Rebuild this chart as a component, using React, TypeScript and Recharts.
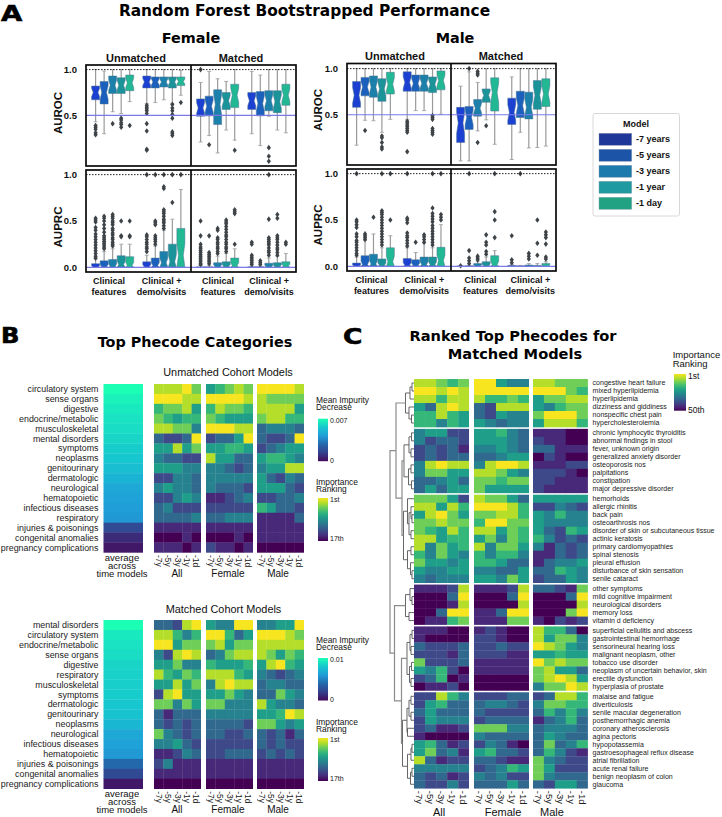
import { BarChart, Bar, XAxis, YAxis, ReferenceLine, ScatterChart, Scatter } from "recharts";

const SANS = "'Liberation Sans', Arial, sans-serif";
const TITLE = "'DejaVu Sans', sans-serif";

const modelNames = ["-7 years", "-5 years", "-3 years", "-1 year", "-1 day"];
const boxColors = ["#1c40d2", "#1a60bc", "#1b80aa", "#1a9498", "#22b894"];
const legendColors = ["#1e3799", "#1c54a8", "#1c7bac", "#1f9aa0", "#21a383"];
const slotNames = ["cf-7", "cf-5", "cf-3", "cf-1y", "cf-1d", "gap", "cd-7", "cd-5", "cd-3", "cd-1y", "cd-1d"];

// each box: whisker low, q1, median, q3, whisker high
const femaleAurocUnmatched = [
  [0.43, 0.67, 0.75, 0.82, 1], [0.3, 0.625, 0.75, 0.87, 0.985], [0.54, 0.74, 0.83, 0.93, 1], [0.52, 0.74, 0.83, 0.91, 1], [0.65, 0.77, 0.855, 0.94, 1],
  [0.63, 0.8, 0.865, 0.93, 1], [0.64, 0.8, 0.865, 0.92, 1], [0.67, 0.81, 0.865, 0.92, 1], [0.63, 0.8, 0.865, 0.92, 1], [0.72, 0.825, 0.87, 0.92, 0.99],
];
const femaleAurocUnmatchedOut = [
  [0.39, 0.37, 0.35, 0.31, 0.29], [], [0.41], [0.47, 0.45, 0.42, 0.4, 0.37], [0.39],
  [0.61, 0.59, 0.57, 0.55, 0.52, 0.41, 0.33, 0.13, 0.12], [], [], [0.62, 0.58, 0.55, 0.51, 0.47, 0.32, 0.3, 0.28], [0.64],
];
const femaleAurocMatched = [
  [0.21, 0.49, 0.58, 0.68, 0.86], [0.28, 0.495, 0.6, 0.71, 0.98], [0.09, 0.4, 0.62, 0.78, 0.9], [0.34, 0.565, 0.66, 0.75, 0.87], [0.23, 0.585, 0.72, 0.84, 1],
  [0.3, 0.565, 0.66, 0.75, 0.98], [0.17, 0.495, 0.63, 0.76, 0.94], [0.49, 0.55, 0.66, 0.77, 1], [0.34, 0.53, 0.65, 0.77, 1], [0.31, 0.61, 0.72, 0.84, 1],
];
const femaleAurocMatchedOut = [[1], [0.18], [], [], [0.12], [], [], [0.148, 0.054, 0.0], [], []];
const femaleAuprcUnmatched = [
  [0, 0.001, 0.005, 0.04, 0.09], [0, 0.001, 0.01, 0.07, 0.17], [0, 0.001, 0.012, 0.085, 0.2], [0, 0.001, 0.03, 0.125, 0.25], [0, 0.001, 0.02, 0.115, 0.25],
  [0, 0.001, 0.01, 0.06, 0.13], [0, 0.001, 0.02, 0.1, 0.23], [0, 0.001, 0.05, 0.17, 0.4], [0, 0.001, 0.06, 0.25, 0.52], [0, 0.001, 0.13, 0.42, 0.84],
];
const femaleAuprcUnmatchedOut = [
  [0.53, 0.51, 0.49, 0.43, 0.4, 0.36, 0.33, 0.3, 0.27, 0.24, 0.21, 0.18, 0.15, 0.12, 0.1],
  [0.55, 0.53, 0.5, 0.46, 0.42, 0.38, 0.34, 0.32, 0.3, 0.28, 0.26, 0.24, 0.22, 0.2],
  [0.57, 0.55, 0.53, 0.5, 0.48, 0.46, 0.42, 0.4, 0.37, 0.35, 0.32, 0.3, 0.27, 0.25, 0.23],
  [0.5, 0.34, 0.33], [0.5, 0.34, 0.33],
  [0.35, 0.33, 0.3, 0.27, 0.25, 0.22, 0.2, 0.17, 1], [0.5, 0.48, 0.46, 0.34, 0.32, 0.3, 0.28, 0.25, 1],
  [1, 0.87, 0.85, 0.62, 0.6, 0.58, 0.55, 0.52, 0.5, 0.48, 0.45, 0.42], [1, 0.7], [1],
];
const femaleAuprcMatched = [
  [0, 0.001, 0.002, 0.005, 0.02], [0, 0.001, 0.002, 0.005, 0.02], [0, 0.001, 0.01, 0.05, 0.12], [0, 0.001, 0.012, 0.06, 0.15], [0, 0.001, 0.02, 0.1, 0.2],
  [0, 0.001, 0.002, 0.005, 0.01], [0, 0.001, 0.002, 0.005, 0.01], [0, 0.001, 0.008, 0.045, 0.1], [0, 0.001, 0.01, 0.05, 0.12], [0, 0.001, 0.015, 0.06, 0.15],
];
const femaleAuprcMatchedOut = [
  [0.5, 0.34, 0.25, 0.22, 0.2, 0.18, 0.16, 0.14, 0.12, 0.1, 0.08, 0.06, 0.04, 0.03],
  [0.34, 0.16, 0.14, 0.12, 0.1, 0.08, 0.06, 0.04],
  [0.42, 0.4, 0.32, 0.3, 0.27, 0.25, 0.22, 0.2, 0.17, 0.15],
  [0.51, 0.49, 0.47, 0.44, 0.41, 0.38, 0.35, 0.33, 0.3, 0.27, 0.25, 0.22, 0.2, 0.17],
  [0.62, 0.6, 0.58, 0.25],
  [0.27, 0.25, 0.13, 0.11, 0.09, 0.07, 0.05, 0.03], [0.07, 0.05, 0.03],
  [1, 0.52, 0.32, 0.3, 0.28, 0.26, 0.24, 0.21, 0.18, 0.16, 0.13],
  [0.57, 0.53, 0.34, 0.32, 0.3, 0.27, 0.24, 0.21, 0.19, 0.16, 0.13], [0.27, 0.25],
];
const maleAurocUnmatched = [
  [0.17, 0.58, 0.71, 0.86, 1], [0.44, 0.705, 0.8, 0.905, 1], [0.435, 0.69, 0.8, 0.92, 1], [0.31, 0.645, 0.78, 0.89, 1], [0.45, 0.725, 0.83, 0.96, 1],
  [0.45, 0.755, 0.85, 0.965, 1], [0.545, 0.755, 0.84, 0.93, 1], [0.545, 0.755, 0.84, 0.93, 1], [0.5, 0.74, 0.83, 0.91, 1], [0.505, 0.77, 0.87, 0.975, 1],
];
const maleAurocUnmatchedOut = [
  [], [0.33], [], [0.27, 0.25, 0.2, 0.15, 0.13], [],
  [0.43, 0.41, 0.39, 0.37, 0.35, 0.33, 0.31, 0.1], [], [], [0.49, 0.47, 0.45, 0.35, 0.33, 0.31, 0.29], [],
];
const maleAurocMatched = [
  [0, 0.2, 0.41, 0.58, 0.81], [0, 0.34, 0.47, 0.59, 0.965], [0.325, 0.485, 0.57, 0.665, 0.85], [0.445, 0.635, 0.71, 0.78, 1], [0.18, 0.54, 0.74, 0.9, 1],
  [0.015, 0.395, 0.525, 0.68, 0.91], [0.31, 0.47, 0.6, 0.755, 1], [0.14, 0.455, 0.58, 0.745, 1], [0.145, 0.56, 0.71, 0.87, 1], [0.16, 0.59, 0.725, 0.89, 1],
];
const maleAurocMatchedOut = [[], [1], [0.97, 0.95, 0.93, 0.2], [0.38], [], [], [], [], [], []];
const maleAuprcUnmatched = [
  [0, 0.001, 0.005, 0.035, 0.1], [0, 0.001, 0.02, 0.115, 0.28], [0, 0.001, 0.025, 0.13, 0.35], [0, 0.001, 0.012, 0.08, 0.2], [0, 0.001, 0.05, 0.2, 0.33],
  [0, 0.001, 0.015, 0.085, 0.2], [0, 0.001, 0.012, 0.07, 0.15], [0, 0.001, 0.02, 0.1, 0.25], [0, 0.001, 0.02, 0.1, 0.2], [0, 0.001, 0.06, 0.205, 0.45],
];
const maleAuprcUnmatchedOut = [
  [1, 0.5, 0.48, 0.45, 0.42, 0.35, 0.32, 0.28, 0.26, 0.23, 0.2, 0.17, 0.14, 0.12],
  [0.35, 0.33, 0.31, 0.29], [0.53],
  [1, 0.6, 0.58, 0.56, 0.53, 0.5, 0.47, 0.44, 0.41, 0.38, 0.35, 0.32, 0.29, 0.26, 0.23],
  [1, 0.5], [1, 0.52, 0.5, 0.47, 0.36, 0.33, 0.31, 0.28, 0.25, 0.22], [0.26], [0.34, 0.32, 0.29, 0.26],
  [1, 0.63, 0.57, 0.54, 0.51, 0.48, 0.44, 0.41, 0.38, 0.35, 0.32, 0.29, 0.26, 0.23], [1, 0.56, 0.53, 0.5],
];
const maleAuprcMatched = [
  [0, 0.0005, 0.001, 0.002, 0.004], [0, 0.001, 0.002, 0.005, 0.01], [0, 0.001, 0.006, 0.03, 0.05], [0, 0.001, 0.008, 0.05, 0.1], [0, 0.001, 0.02, 0.115, 0.17],
  [0, 0.001, 0.003, 0.01, 0.02], [0, 0.001, 0.002, 0.005, 0.01], [0, 0.001, 0.004, 0.015, 0.03], [0, 0.001, 0.003, 0.01, 0.03], [0, 0.001, 0.006, 0.03, 0.05],
];
const maleAuprcMatchedOut = [
  [0.006], [1, 0.17, 0.09, 0.06, 0.03], [0.11, 0.09, 0.07], [0.34, 0.26, 0.23, 0.16, 0.13], [1, 0.59, 0.5, 0.31],
  [0.33, 0.07, 0.04], [1], [0.14, 0.11, 0.08], [0.5, 0.25, 0.12], [0.37, 0.34, 0.31, 0.24, 0.1, 0.08],
];

// panel B: rank colour steps 0 (17th) .. 9 (1st), columns All / Female / Male x -7y -5y -3y -1y -1d
const unmatchedCategories = ["circulatory system", "sense organs", "digestive", "endocrine/metabolic", "musculoskeletal", "mental disorders", "symptoms", "neoplasms", "genitourinary", "dermatologic", "neurological", "hematopoietic", "infectious diseases", "respiratory", "injuries & poisonings", "congenital anomalies", "pregnancy complications"];
const unmatchedImpurity = [0.007, 0.00665, 0.00645, 0.0063, 0.00615, 0.00595, 0.00575, 0.0056, 0.0053, 0.0049, 0.00455, 0.00435, 0.0042, 0.00405, 0.00175, 0.00085, 0.00035];
const unmatchedRanks = [
  [8, 8, 8, 9, 7, 5, 6, 7, 8, 7, 9, 9, 9, 9, 8],
  [9, 9, 9, 8, 8, 9, 9, 9, 9, 8, 8, 7, 7, 7, 7],
  [6, 7, 7, 8, 5, 6, 8, 7, 7, 6, 8, 8, 8, 8, 5],
  [7, 6, 5, 6, 6, 7, 6, 5, 5, 5, 7, 8, 8, 6, 6],
  [8, 8, 7, 7, 4, 9, 9, 9, 8, 8, 3, 4, 4, 4, 3],
  [3, 2, 2, 3, 9, 2, 3, 3, 5, 9, 3, 2, 2, 3, 9],
  [5, 5, 8, 5, 7, 5, 5, 6, 6, 5, 2, 3, 4, 5, 5],
  [4, 3, 3, 2, 2, 8, 5, 5, 3, 3, 5, 6, 6, 5, 4],
  [5, 5, 5, 4, 4, 4, 4, 3, 2, 3, 4, 5, 5, 8, 8],
  [2, 2, 4, 4, 3, 4, 4, 4, 4, 4, 5, 3, 2, 4, 3],
  [4, 5, 4, 4, 3, 4, 3, 3, 3, 2, 5, 5, 5, 3, 2],
  [2, 2, 4, 5, 4, 1, 1, 2, 3, 4, 2, 2, 3, 3, 4],
  [3, 4, 2, 2, 2, 2, 2, 2, 2, 2, 6, 5, 3, 3, 2],
  [3, 3, 3, 3, 4, 3, 3, 4, 4, 4, 1, 1, 1, 1, 3],
  [1, 1, 1, 1, 1, 1, 1, 1, 1, 1, 1, 1, 1, 1, 1],
  [0, 0, 0, 1, 0, 0, 0, 0, 1, 0, 1, 1, 1, 1, 1],
  [1, 1, 1, 0, 1, 2, 1, 1, 0, 1, 0, 0, 0, 0, 0],
];
const matchedCategories = ["mental disorders", "circulatory system", "endocrine/metabolic", "sense organs", "digestive", "respiratory", "musculoskeletal", "symptoms", "dermatologic", "genitourinary", "neoplasms", "neurological", "infectious diseases", "hematopoietic", "injuries & poisonings", "congenital anomalies", "pregnancy complications"];
const matchedImpurity = [0.01, 0.0092, 0.009, 0.0088, 0.0085, 0.0084, 0.0083, 0.0082, 0.008, 0.0078, 0.0072, 0.0065, 0.0062, 0.0058, 0.004, 0.0025, 0.0005];
const matchedRanks = [
  [3, 3, 2, 8, 9, 5, 4, 4, 9, 9, 4, 4, 5, 5, 9],
  [8, 8, 6, 4, 6, 9, 9, 6, 3, 5, 9, 9, 9, 8, 7],
  [9, 9, 5, 7, 7, 7, 8, 5, 7, 7, 8, 8, 8, 8, 8],
  [4, 2, 8, 9, 8, 3, 4, 7, 8, 8, 8, 7, 5, 7, 6],
  [5, 5, 7, 4, 4, 6, 5, 5, 5, 6, 5, 8, 9, 6, 5],
  [8, 6, 5, 7, 6, 8, 8, 8, 6, 5, 4, 3, 2, 3, 4],
  [5, 5, 8, 5, 7, 4, 8, 9, 8, 8, 3, 4, 4, 3, 3],
  [2, 8, 9, 5, 5, 5, 5, 7, 5, 4, 3, 3, 7, 5, 4],
  [7, 7, 4, 7, 5, 7, 7, 4, 4, 4, 8, 5, 4, 4, 3],
  [3, 1, 3, 3, 3, 4, 4, 4, 4, 4, 5, 5, 6, 9, 8],
  [3, 2, 3, 2, 3, 3, 3, 3, 3, 2, 7, 7, 5, 4, 5],
  [7, 4, 3, 2, 3, 3, 3, 2, 2, 3, 3, 2, 3, 1, 3],
  [4, 4, 5, 3, 2, 2, 2, 2, 2, 2, 3, 2, 3, 2, 2],
  [1, 1, 2, 4, 3, 2, 2, 3, 3, 3, 2, 3, 2, 3, 2],
  [2, 4, 1, 1, 1, 1, 1, 1, 1, 1, 1, 1, 1, 1, 1],
  [1, 1, 1, 1, 1, 1, 1, 1, 1, 1, 1, 1, 1, 1, 1],
  [0, 0, 0, 0, 0, 0, 0, 0, 0, 0, 0, 0, 0, 0, 0],
];

// panel C
const phecodeNames = [
  "congestive heart failure", "mixed hyperlipidemia", "hyperlipidemia", "dizziness and giddiness", "nonspecific chest pain", "hypercholesterolemia",
  "chronic lymphocytic thyroiditis", "abnormal findings in stool", "fever, unknown origin", "generalized anxiety disorder", "osteoporosis nos", "palpitations", "constipation", "major depressive disorder",
  "hemorhoids", "allergic rhinitis", "back pain", "osteoarthrosis nos", "disorder of skin or subcutaneous tissue", "actinic keratosis", "primary cardiomyopathies", "spinal stenosis", "pleural effusion", "disturbance of skin sensation", "senile cataract",
  "other symptoms", "mild cognitive impairment", "neurological disorders", "memory loss", "vitamin d deficiency",
  "superficial cellulitis and abscess", "gastrointestinal hemorrhage", "sensorineural hearing loss", "malignant neoplasm, other", "tobacco use disorder", "neoplasm of uncertain behavior, skin", "erectile dysfunction", "hyperplasia of prostate",
  "malaise and fatigue", "diverticulosis", "senile macular degeneration", "posthemorrhagic anemia", "coronary atherosclerosis", "agina pectoris", "hypopotassemia", "gastroesophageal reflux disease", "atrial fibrillation", "acute renal failure", "benign neoplasm of colon", "glaucoma",
];
const phecodeRanks = [
  [8, 8, 7, 6, 7, 9, 9, 5, 4, 4, 8, 8, 7, 7, 7],
  [9, 9, 8, 9, 8, 9, 9, 9, 9, 9, 9, 9, 9, 7, 6],
  [8, 8, 6, 8, 8, 8, 6, 6, 7, 6, 5, 7, 7, 8, 8],
  [5, 3, 8, 9, 8, 3, 2, 8, 8, 8, 5, 4, 6, 7, 7],
  [6, 6, 8, 6, 5, 3, 2, 5, 4, 4, 7, 9, 9, 9, 7],
  [6, 6, 4, 6, 5, 5, 4, 3, 4, 4, 5, 8, 8, 8, 6],
  [4, 5, 5, 2, 2, 5, 5, 6, 4, 3, 1, 1, 1, 0, 0],
  [4, 2, 3, 3, 2, 5, 5, 5, 4, 3, 2, 1, 1, 0, 0],
  [2, 3, 2, 3, 1, 4, 4, 5, 4, 3, 3, 3, 1, 1, 1],
  [2, 3, 2, 3, 3, 3, 3, 4, 5, 5, 0, 2, 1, 0, 0],
  [4, 8, 9, 8, 8, 4, 8, 9, 9, 8, 1, 1, 1, 2, 2],
  [4, 7, 7, 5, 5, 8, 8, 7, 5, 4, 2, 2, 2, 1, 0],
  [3, 3, 4, 5, 3, 7, 7, 6, 7, 7, 2, 2, 1, 1, 1],
  [3, 5, 3, 5, 5, 7, 5, 5, 5, 5, 2, 1, 1, 1, 1],
  [7, 7, 7, 5, 2, 8, 7, 7, 5, 3, 5, 5, 5, 5, 5],
  [8, 8, 5, 8, 6, 9, 9, 9, 8, 6, 2, 2, 4, 3, 2],
  [5, 8, 9, 7, 5, 7, 7, 8, 8, 6, 5, 4, 6, 4, 4],
  [7, 7, 8, 7, 7, 6, 9, 9, 7, 7, 5, 4, 4, 4, 4],
  [7, 6, 5, 8, 6, 8, 8, 5, 7, 6, 5, 3, 2, 6, 5],
  [8, 8, 5, 6, 6, 5, 7, 4, 7, 6, 6, 4, 2, 3, 2],
  [8, 4, 7, 5, 6, 8, 4, 7, 7, 5, 4, 1, 3, 2, 3],
  [6, 4, 7, 5, 4, 6, 4, 6, 6, 4, 1, 1, 3, 2, 3],
  [7, 5, 5, 4, 5, 6, 6, 5, 3, 3, 1, 3, 4, 4, 5],
  [5, 4, 4, 5, 5, 4, 4, 3, 3, 5, 3, 3, 6, 5, 4],
  [4, 3, 4, 4, 4, 5, 5, 4, 7, 5, 2, 3, 3, 5, 4],
  [1, 1, 1, 2, 8, 1, 1, 1, 2, 8, 3, 3, 2, 1, 7],
  [0, 0, 0, 3, 9, 0, 0, 0, 3, 9, 0, 0, 0, 3, 9],
  [0, 0, 0, 1, 8, 0, 0, 0, 0, 8, 0, 0, 0, 0, 8],
  [0, 0, 3, 9, 9, 1, 1, 3, 9, 9, 0, 0, 0, 7, 9],
  [0, 1, 1, 6, 7, 1, 1, 1, 7, 7, 1, 0, 2, 1, 2],
  [1, 1, 1, 0, 0, 1, 2, 1, 0, 0, 8, 6, 6, 3, 0],
  [1, 0, 0, 0, 0, 2, 2, 1, 0, 0, 8, 5, 7, 7, 4],
  [3, 2, 2, 2, 3, 2, 2, 3, 2, 2, 9, 8, 7, 5, 4],
  [2, 2, 2, 1, 3, 2, 2, 2, 1, 1, 5, 5, 6, 5, 5],
  [7, 2, 2, 2, 3, 1, 1, 1, 1, 1, 9, 7, 8, 7, 7],
  [5, 4, 6, 2, 0, 1, 1, 1, 1, 1, 7, 8, 5, 5, 3],
  [2, 3, 6, 0, 1, 0, 0, 0, 0, 0, 7, 8, 9, 8, 5],
  [0, 1, 1, 2, 0, 0, 0, 0, 0, 0, 4, 7, 7, 9, 8],
  [2, 2, 8, 6, 4, 2, 2, 2, 3, 3, 2, 3, 8, 8, 6],
  [2, 5, 6, 3, 3, 3, 4, 4, 3, 2, 4, 7, 7, 6, 6],
  [3, 5, 3, 3, 3, 3, 2, 2, 2, 2, 3, 6, 4, 6, 4],
  [2, 5, 4, 4, 4, 2, 3, 3, 3, 3, 1, 3, 4, 6, 3],
  [2, 3, 1, 1, 2, 7, 7, 7, 4, 4, 3, 4, 4, 4, 3],
  [1, 0, 0, 0, 0, 4, 3, 3, 3, 3, 3, 5, 4, 3, 3],
  [5, 6, 3, 1, 2, 2, 4, 3, 1, 0, 3, 7, 3, 4, 6],
  [5, 7, 3, 4, 1, 5, 6, 3, 3, 2, 3, 6, 4, 2, 1],
  [8, 3, 1, 2, 2, 3, 3, 2, 1, 1, 7, 4, 3, 2, 2],
  [4, 4, 4, 4, 4, 2, 3, 4, 6, 5, 7, 5, 2, 2, 2],
  [3, 2, 3, 1, 2, 4, 3, 4, 2, 2, 7, 4, 3, 3, 3],
  [3, 2, 2, 4, 2, 3, 3, 3, 5, 3, 3, 2, 5, 5, 3],
];
const clusterSizes = [6, 8, 11, 5, 8, 12];

// dendrogram merges: [distance, child, child], a bare number is a row
const treeC1 = [8.5, [4, [2, 0, 1], 2], [5, 3, [2.5, 4, 5]]];
const treeC2 = [10, [5, [2.5, 6, 7], [3, 8, 9]], [5.5, [3, 10, 11], [2.5, 12, 13]]];
const treeC3 = [10.5, [6.5, 14, [5, [3, 15, [2, 16, 17]], [3, 18, 19]]], [6.5, [3, 20, 21], [3.5, 22, [2, 23, 24]]]];
const treeC4 = [8.5, [4, 25, [2, 26, 27]], [5, 28, 29]];
const treeC5 = [7, [4, [2, 30, 31], [3, 32, 33]], [4.5, [2.5, 34, 35], [3, 36, 37]]];
const treeC6 = [11.5, [7, [5, [3, 38, 39], [3, 40, 41]], [6.5, 42, 43]], [6.5, [3, [2, 44, 45], 46], [3.5, [2, 47, 48], 49]]];
const phecodeTree = [24, [18, treeC1, [12, treeC2, treeC3]], [19.5, treeC4, [12.5, treeC5, treeC6]]];

const timeTicks = ["-7y", "-5y", "-3y", "-1y", "-1d"];
const viridis = ["#440154", "#482878", "#3e4989", "#31688e", "#26828e", "#1f9e89", "#35b779", "#6ece58", "#b5de2b", "#f6e51f"];
const impurityStops = ["#450a5c", "#34408c", "#2468ac", "#1f9ed8", "#17c7cf", "#1bffb4"];

function mix(stops: string[], t: number) {
  const p = Math.max(0, Math.min(1, t)) * (stops.length - 1);
  const i = Math.min(Math.floor(p), stops.length - 2);
  const f = p - i;
  const a = stops[i], b = stops[i + 1];
  const ch = (k: number) => Math.round(parseInt(a.slice(k, k + 2), 16) * (1 - f) + parseInt(b.slice(k, k + 2), 16) * f);
  return `rgb(${ch(1)},${ch(3)},${ch(5)})`;
}

function buildBoxRows(boxes: number[][], outliers: number[][]) {
  return slotNames.map((slot, i) => {
    if (i === 5) return { slot, range: null };
    const j = i < 5 ? i : i - 1;
    const b = boxes[j];
    return { slot, range: [b[1], b[3]], lo: b[0], q1: b[1], med: b[2], q3: b[3], hi: b[4], out: outliers[j], model: j % 5 };
  });
}

function BoxShape(props: any) {
  const { x, y, width, height, payload } = props;
  if (!payload || !payload.range) return null;
  const { lo, q1, med, q3, hi, out, model } = payload;
  const perUnit = height / (q3 - q1);
  const py = (v: number) => y + (q3 - v) * perUnit;
  const cx = x + width / 2;
  const notch = 0.3 * (q3 - q1);
  const low = Math.max(med - notch, q1);
  const l = x, r = x + width, nl = cx - width * 0.3, nr = cx + width * 0.3;
  const d = `M${l},${py(q1)}L${r},${py(q1)}L${r},${py(low)}L${nr},${py(med)}L${r},${py(med + notch)}L${r},${py(q3)}L${l},${py(q3)}L${l},${py(med + notch)}L${nl},${py(med)}L${l},${py(low)}Z`;
  return (
    <g>
      <line x1={cx} x2={cx} y1={py(hi)} y2={py(lo)} stroke="#9a9a9a" strokeWidth={1.2} />
      <line x1={cx - 2} x2={cx + 2} y1={py(hi)} y2={py(hi)} stroke="#9a9a9a" strokeWidth={0.8} />
      <line x1={cx - 2} x2={cx + 2} y1={py(lo)} y2={py(lo)} stroke="#9a9a9a" strokeWidth={0.8} />
      <path d={d} fill={boxColors[model]} stroke="#4d7390" strokeWidth={0.5} />
      {out.map((v: number, k: number) => (
        <path key={k} d={`M${cx},${py(v) - 2.8}L${cx + 2.1},${py(v)}L${cx},${py(v) + 2.8}L${cx - 2.1},${py(v)}Z`} fill="#3e4347" />
      ))}
    </g>
  );
}

function BoxFacet({ x, y, w, h, boxes, outliers, axis, bottom, baseline, labelDx }: any) {
  const rows = buildBoxRows(boxes, outliers);
  const axisW = axis ? 40 : 0;
  const xTick = ({ x: tx, payload }: any) => {
    const i = slotNames.indexOf(payload.value);
    if (i !== 2 && i !== 8) return <g />;
    const lines = i === 2 ? ["Clinical", "features"] : ["Clinical +", "demo/visits"];
    const dx = labelDx[i === 2 ? 0 : 1];
    return (
      <text textAnchor="middle" fontFamily={SANS} fontWeight="bold" fontSize={9} fill="#111">
        <tspan x={tx + dx} y={h + 12}>{lines[0]}</tspan>
        <tspan x={tx + dx} y={h + 23}>{lines[1]}</tspan>
      </text>
    );
  };
  return (
    <div style={{ position: "absolute", left: x - axisW, top: y }}>
      <BarChart width={w + axisW} height={h + (bottom ? 34 : 0)} data={rows} margin={{ top: 0, right: 0, bottom: 0, left: 0 }} barCategoryGap={0}>
        <XAxis dataKey="slot" hide={!bottom} interval={0} height={34} tick={xTick} tickLine={false} axisLine={false} padding={{ left: 5.6, right: 5.6 }} />
        <YAxis hide={!axis} width={axisW} type="number" domain={[-0.05, 1.05]} ticks={[0, 0.5, 1]} allowDataOverflow tickFormatter={(v: number) => v.toFixed(1)} axisLine={false} tickLine={false} tickMargin={3} tick={{ fontFamily: SANS, fontWeight: "bold", fontSize: 9.5, fill: "#111" }} />
        <ReferenceLine y={baseline} stroke="#7a7ae6" strokeWidth={1.1} />
        <ReferenceLine y={1} stroke="#222" strokeDasharray="1.5 1.5" strokeWidth={1} />
        <Bar dataKey="range" barSize={8} shape={BoxShape} isAnimationActive={false} />
      </BarChart>
    </div>
  );
}

function BoxPanel({ x, midX, right, top1, bottom1, top2, bottom2, data, dx }: any) {
  return (
    <>
      <BoxFacet x={x} y={top1} w={midX - x} h={bottom1 - top1} boxes={data[0]} outliers={data[1]} axis baseline={0.5} labelDx={dx[0]} />
      <BoxFacet x={midX} y={top1} w={right - midX} h={bottom1 - top1} boxes={data[2]} outliers={data[3]} baseline={0.5} labelDx={dx[0]} />
      <BoxFacet x={x} y={top2} w={midX - x} h={bottom2 - top2} boxes={data[4]} outliers={data[5]} axis bottom baseline={0} labelDx={dx[0]} />
      <BoxFacet x={midX} y={top2} w={right - midX} h={bottom2 - top2} boxes={data[6]} outliers={data[7]} bottom baseline={0} labelDx={dx[1]} />
    </>
  );
}

function HeatPanel({ x, y, w, h, rows, rowPos, rowH, colors, labels, labelSide, axisW = 0, labelSize, ticks, tickSize = 8.5, tickH = 22 }: any) {
  const nCols = rows[0].length;
  const cellW = w / nCols;
  const cells: any[] = [];
  rows.forEach((r: number[], i: number) => r.forEach((v, j) => cells.push({ col: j, row: rowPos[i], v })));
  const lastPos = rowPos[rowPos.length - 1];
  const cellShape = ({ cx, cy, payload }: any) => (
    <rect x={cx - cellW / 2} y={cy - rowH / 2} width={cellW + 0.3} height={rowH + 0.3} fill={colors(payload.v)} />
  );
  const left = labelSide === "left" ? axisW : 0;
  const isRight = labelSide === "right";
  const rowTick = ({ x: tx, y: ty, payload }: any) => (
    <text x={tx} y={ty} dy="0.35em" textAnchor={isRight ? "start" : "end"} fontFamily={SANS} fontSize={labelSize} fill="#222">
      {labels[rowPos.indexOf(payload.value)]}
    </text>
  );
  return (
    <div style={{ position: "absolute", left: x - left, top: y }}>
      <ScatterChart width={w + axisW} height={h + (ticks ? tickH : 0)} margin={{ top: 0, right: 0, bottom: 0, left: 0 }}>
        <XAxis
          type="number" dataKey="col" domain={[-0.5, nCols - 0.5]} ticks={timeTicks.map((_, i) => i)} interval={0} hide={!ticks} height={tickH} axisLine={false} tickLine={false}
          tick={({ x: tx, payload }: any) => (
            <text transform={`rotate(90 ${tx} ${h + 2.5})`} x={tx} y={h + 2.5} dy="0.35em" fontFamily={SANS} fontSize={tickSize} fill="#222">{timeTicks[payload.value]}</text>
          )}
        />
        <YAxis
          type="number" dataKey="row" reversed domain={[-0.5, lastPos + 0.5]} hide={!labels} width={axisW} orientation={isRight ? "right" : "left"}
          ticks={rowPos} interval={0} axisLine={false} tickLine={false} tickSize={0} tickMargin={5} tick={rowTick}
        />
        <Scatter data={cells} shape={cellShape} isAnimationActive={false} />
      </ScatterChart>
    </div>
  );
}

function treeSegments(node: any, pos: number[], out: any[]) {
  if (typeof node === "number") return { d: 0, y: pos[node] };
  const [d, a, b] = node;
  const L: any = treeSegments(a, pos, out);
  const R: any = treeSegments(b, pos, out);
  out.push({ d, pts: [{ d: L.d, y: L.y }, { d, y: L.y }, { d, y: R.y }, { d: R.d, y: R.y }] });
  return { d, y: (L.y + R.y) / 2 };
}

function Dendrogram({ x, y, w, h, tree, pos }: any) {
  const segs: any[] = [];
  treeSegments(tree, pos, segs);
  return (
    <div style={{ position: "absolute", left: x, top: y }}>
      <ScatterChart width={w} height={h} margin={{ top: 0, right: 0, bottom: 0, left: 0 }}>
        <XAxis type="number" dataKey="d" domain={[0, w]} reversed hide />
        <YAxis type="number" dataKey="y" reversed domain={[-0.5, pos[pos.length - 1] + 0.5]} hide />
        {segs.map((s, i) => (
          <Scatter key={i} data={s.pts} line={{ stroke: s.d > 11.8 ? "#8c8c8c" : "#555", strokeWidth: s.d > 11.8 ? 1.2 : 0.9 }} shape={() => <g />} isAnimationActive={false} />
        ))}
      </ScatterChart>
    </div>
  );
}

function T({ x, y, size, bold, anchor = "start", font = SANS, rotate, fill = "#111", children }: any) {
  return (
    <text x={x} y={y} fontSize={size} fontWeight={bold ? "bold" : "normal"} textAnchor={anchor} fontFamily={font} fill={fill} transform={rotate ? `rotate(${rotate} ${x} ${y})` : undefined}>
      {children}
    </text>
  );
}

function PanelLetter({ x, y, stretch, children }: any) {
  return (
    <text transform={`translate(${x} ${y}) scale(${stretch} 1)`} fontSize={22} fontWeight="bold" fontFamily={TITLE} fill="#000" stroke="#000" strokeWidth={0.6}>
      {children}
    </text>
  );
}

function ColorBar({ id, x, y, w, h, stops }: any) {
  return (
    <>
      <defs>
        <linearGradient id={id} x1="0" y1="1" x2="0" y2="0">
          {stops.map((c: string, i: number) => <stop key={i} offset={i / (stops.length - 1)} stopColor={c} />)}
        </linearGradient>
      </defs>
      <rect x={x} y={y} width={w} height={h} fill={`url(#${id})`} />
    </>
  );
}

function Frame({ x, mid, right, y, bottom }: any) {
  return (
    <>
      <rect x={x} y={y} width={right - x} height={bottom - y} fill="none" stroke="#0a0a0a" strokeWidth={1.7} />
      <line x1={mid} x2={mid} y1={y} y2={bottom} stroke="#0a0a0a" strokeWidth={1.7} />
    </>
  );
}

function BLegends({ id, top1, top2, maxLabel, bar1, bar2 }: any) {
  return (
    <>
      <T x={316} y={top1} size={8.4}>Mean Impurity</T>
      <T x={316} y={top1 + 6.5} size={8.4}>Decrease</T>
      <ColorBar id={id + "a"} x={318} y={bar1} w={10} h={42.5} stops={impurityStops} />
      <T x={330} y={bar1 + 4} size={7}>{maxLabel}</T>
      <T x={330} y={bar1 + 44} size={7}>0</T>
      <T x={316} y={top2} size={8.4}>Importance</T>
      <T x={316} y={top2 + 7} size={8.4}>Ranking</T>
      <ColorBar id={id + "b"} x={318} y={bar2} w={10} h={43} stops={viridis} />
      <T x={330} y={bar2 + 4} size={7}>1st</T>
      <T x={330} y={bar2 + 43} size={7}>17th</T>
    </>
  );
}

export default function App() {
  const rankColor = (v: number) => mix(viridis, v / 9);
  const colRanks = (rows: number[][], from: number) => rows.map((r) => r.slice(from, from + 5));
  const rowsB = unmatchedCategories.map((_, i) => i);
  const columnsB = [{ x: 154, from: 0 }, { x: 205.7, from: 5 }, { x: 257.3, from: 10 }];
  const columnsC = [{ x: 414, w: 55.3, from: 0 }, { x: 473.7, w: 55, from: 5 }, { x: 532.7, w: 54.6, from: 10 }];
  let row = 0;
  const phecodePos: number[] = [];
  clusterSizes.forEach((n, c) => {
    for (let k = 0; k < n; k++) phecodePos.push(row++ + c * 0.23);
  });
  return (
    <div style={{ position: "absolute", left: 0, top: 0, width: 722, height: 817, background: "#fff", overflow: "hidden" }}>
      <BoxPanel x={86} midX={191} right={296} top1={65.4} bottom1={166.2} top2={170} bottom2={272} dx={[[-4, -2.5], [0, 0]]}
        data={[femaleAurocUnmatched, femaleAurocUnmatchedOut, femaleAurocMatched, femaleAurocMatchedOut, femaleAuprcUnmatched, femaleAuprcUnmatchedOut, femaleAuprcMatched, femaleAuprcMatchedOut]} />
      <BoxPanel x={347} midX={451} right={556} top1={63.5} bottom1={165} top2={169} bottom2={271} dx={[[-2.3, 0], [2.7, 1.3]]}
        data={[maleAurocUnmatched, maleAurocUnmatchedOut, maleAurocMatched, maleAurocMatchedOut, maleAuprcUnmatched, maleAuprcUnmatchedOut, maleAuprcMatched, maleAuprcMatchedOut]} />

      <HeatPanel x={103.5} y={384.3} w={39.5} h={168.4} rows={unmatchedImpurity.map((v) => [v])} rowPos={rowsB} rowH={168.4 / 17} colors={(v: number) => mix(impurityStops, v / 0.007)}
        labels={unmatchedCategories} labelSide="left" axisW={103.5} labelSize={8.9} />
      {columnsB.map((c) => (
        <HeatPanel key={c.x} x={c.x} y={384.3} w={47} h={168.4} rows={colRanks(unmatchedRanks, c.from)} rowPos={rowsB} rowH={168.4 / 17} colors={rankColor} ticks />
      ))}
      <HeatPanel x={103.5} y={620} w={39.5} h={168.7} rows={matchedImpurity.map((v) => [v])} rowPos={rowsB} rowH={168.7 / 17} colors={(v: number) => mix(impurityStops, v / 0.01)}
        labels={matchedCategories} labelSide="left" axisW={103.5} labelSize={8.9} />
      {columnsB.map((c) => (
        <HeatPanel key={c.x} x={c.x} y={620} w={47} h={168.7} rows={colRanks(matchedRanks, c.from)} rowPos={rowsB} rowH={168.7 / 17} colors={rankColor} ticks />
      ))}

      <Dendrogram x={388} y={379} w={26} h={409.3} tree={phecodeTree} pos={phecodePos} />
      {columnsC.map((c) => (
        <HeatPanel key={c.x} x={c.x} y={379} w={c.w} h={409.3} rows={colRanks(phecodeRanks, c.from)} rowPos={phecodePos} rowH={8} colors={rankColor} ticks tickSize={9.5}
          labels={c.from === 10 ? phecodeNames : undefined} labelSide={c.from === 10 ? "right" : undefined} axisW={c.from === 10 ? 134 : 0} labelSize={7.05} />
      ))}

      <svg width={722} height={817} style={{ position: "absolute", left: 0, top: 0, pointerEvents: "none" }}>
        <PanelLetter x={1} y={20.5} stretch={1.25}>A</PanelLetter>
        <PanelLetter x={1} y={343} stretch={1.1}>B</PanelLetter>
        <PanelLetter x={343} y={344} stretch={1.2}>C</PanelLetter>
        <T x={304.5} y={16} size={15.4} bold anchor="middle" font={TITLE} fill="#000">Random Forest Bootstrapped Performance</T>
        <T x={191} y={43} size={14.4} bold anchor="middle" font={TITLE} fill="#000">Female</T>
        <T x={455} y={43} size={14.4} bold anchor="middle" font={TITLE} fill="#000">Male</T>

        <T x={136} y={61.5} size={11} bold anchor="middle">Unmatched</T>
        <T x={241} y={61.5} size={11} bold anchor="middle">Matched</T>
        <T x={395} y={60} size={11} bold anchor="middle">Unmatched</T>
        <T x={501} y={60} size={11} bold anchor="middle">Matched</T>
        <T x={62} y={113} size={11.5} bold anchor="middle" rotate={-90}>AUROC</T>
        <T x={62} y={227} size={11.5} bold anchor="middle" rotate={-90}>AUPRC</T>
        <T x={322} y={110} size={11.5} bold anchor="middle" rotate={-90}>AUROC</T>
        <T x={322} y={225} size={11.5} bold anchor="middle" rotate={-90}>AUPRC</T>
        <Frame x={86} mid={191} right={296} y={65} bottom={166} />
        <Frame x={86} mid={191} right={296} y={170} bottom={272} />
        <Frame x={347} mid={451} right={556} y={63.5} bottom={165} />
        <Frame x={347} mid={451} right={556} y={169} bottom={271} />

        <rect x={593} y={113.5} width={86.5} height={102.5} rx={2} fill="#fff" stroke="#d8d8d8" strokeWidth={1} />
        <T x={636} y={126.5} size={9} bold anchor="middle">Model</T>
        {modelNames.map((m, i) => (
          <g key={m}>
            <rect x={599} y={133.3 + i * 16} width={32.7} height={12} fill={legendColors[i]} stroke="#8a9aa8" strokeWidth={0.4} />
            <T x={636} y={141.8 + i * 16} size={9} bold>{m}</T>
          </g>
        ))}

        <T x={195} y={347} size={14.4} bold anchor="middle" font={TITLE} fill="#000">Top Phecode Categories</T>
        <T x={228} y={376} size={10.9} anchor="middle">Unmatched Cohort Models</T>
        <T x={223.5} y={613} size={10.9} anchor="middle">Matched Cohort Models</T>
        {[[561, 569, 576.5], [797, 805, 812.5]].map((ys, k) => (
          <g key={k}>
            <T x={122} y={ys[0]} size={9.5} anchor="middle">average</T>
            <T x={122} y={ys[1]} size={9.5} anchor="middle">across</T>
            <T x={122} y={ys[2]} size={9.5} anchor="middle">time models</T>
            <T x={177} y={ys[2]} size={10} anchor="middle">All</T>
            <T x={228} y={ys[2]} size={10} anchor="middle">Female</T>
            <T x={278} y={ys[2]} size={10} anchor="middle">Male</T>
          </g>
        ))}
        <BLegends id="um" top1={403} top2={485} maxLabel="0.007" bar1={418.7} bar2={498} />
        <BLegends id="ma" top1={643} top2={725} maxLabel="0.01" bar1={658} bar2={738} />

        <T x={513} y={341} size={14.6} bold anchor="middle" font={TITLE} fill="#000">Ranked Top Phecodes for</T>
        <T x={515} y={359} size={14.6} bold anchor="middle" font={TITLE} fill="#000">Matched Models</T>
        <T x={672.7} y={358} size={9.5}>Importance</T>
        <T x={672.7} y={367} size={9.5}>Ranking</T>
        <ColorBar id="cb" x={674} y={374} w={12} h={36.7} stops={viridis} />
        <T x={688} y={379} size={8.5}>1st</T>
        <T x={688} y={413} size={8.5}>50th</T>
        <T x={439} y={816} size={11} anchor="middle">All</T>
        <T x={503} y={816} size={11} anchor="middle">Female</T>
        <T x={552} y={816} size={11} anchor="middle">Male</T>
      </svg>
    </div>
  );
}
